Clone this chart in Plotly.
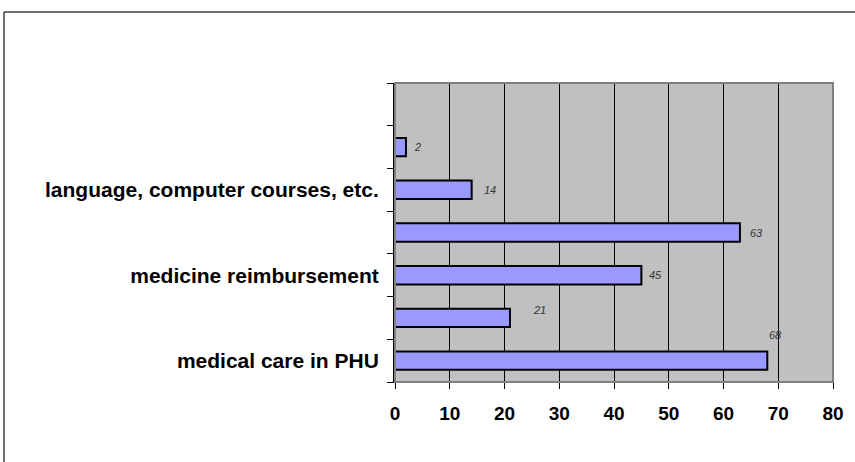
import plotly.graph_objects as go

# categories from bottom to top (blank slots have no label)
categories = ["medical care in PHU", " ", "medicine reimbursement", "  ",
              "language, computer courses, etc.", "   ", "    "]
values = [68, 21, 45, 63, 14, 2, None]
value_labels = ["68", "21", "45", "63", "14", "2", ""]
x_ticks = [0, 10, 20, 30, 40, 50, 60, 70, 80]
# label offsets in pixels (x, y) relative to the bar end
label_shift = [(0, 26), (21, 8), (6, 0), (8, 0), (10, 0), (6, 0), (0, 0)]

W, H = 855, 462
L, R, T, B = 395, 22, 83, 80
pw, ph = W - L - R, H - T - B

fig = go.Figure()
fig.add_trace(go.Bar(
    x=values, y=categories, orientation="h",
    marker=dict(color="#9999FF", line=dict(color="black", width=2)),
    hoverinfo="skip", width=0.43,
))

for v, lab, c, (dx, dy) in zip(values, value_labels, categories, label_shift):
    if v is None:
        continue
    fig.add_annotation(
        x=v, y=c, text=lab, showarrow=False, xanchor="left", yanchor="middle",
        xshift=dx, yshift=dy,
        font=dict(family="Arial, Liberation Sans", size=11, color="#333333",
                  style="italic"),
    )

# outer chart frame
fig.add_shape(type="line", xref="paper", yref="paper",
              x0=(4 - L) / pw, x1=(W + 5 - L) / pw,
              y0=(H - 12 - B) / ph, y1=(H - 12 - B) / ph,
              line=dict(color="#404040", width=1.5))
fig.add_shape(type="line", xref="paper", yref="paper",
              x0=(4 - L) / pw, x1=(4 - L) / pw,
              y0=(H - 12 - B) / ph, y1=-B / ph - 0.1,
              line=dict(color="#404040", width=1.5))
# plot area border
fig.add_shape(type="rect", xref="paper", yref="paper", x0=0, x1=1, y0=0, y1=1,
              line=dict(color="#808080", width=2), layer="above")

fig.update_layout(
    width=W, height=H,
    margin=dict(l=L, r=R, t=T, b=B),
    plot_bgcolor="#C0C0C0", paper_bgcolor="white",
    showlegend=False,
    font=dict(family="Arial, Liberation Sans", size=16, color="black"),
    xaxis=dict(range=[0, 80], tickvals=x_ticks,
               ticktext=["<b>%d</b>" % t for t in x_ticks],
               showgrid=True, gridcolor="black", gridwidth=1, zeroline=False,
               ticks="outside", ticklen=6, tickcolor="black",
               showline=True, linecolor="black", linewidth=1,
               tickfont=dict(size=19, family="Arial, Liberation Sans"),
               ticklabelstandoff=8, fixedrange=True),
    yaxis=dict(type="category", categoryorder="array", categoryarray=categories,
               tickson="boundaries", ticks="outside", ticklen=6, tickcolor="black",
               showgrid=False, showline=True, linecolor="black", linewidth=2,
               tickfont=dict(size=21, family="Arial, Liberation Sans", weight="bold"),
               ticklabelstandoff=10, fixedrange=True),
)

fig.write_html("out.html", post_script="document.body.style.margin='0';",
               config={"displayModeBar": False})
